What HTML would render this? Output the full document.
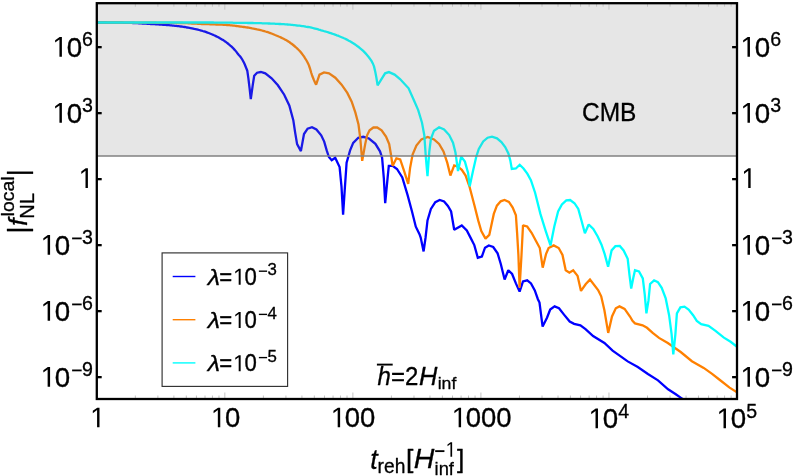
<!DOCTYPE html>
<html><head><meta charset="utf-8"><title>fNL</title>
<style>
html,body{margin:0;padding:0;background:#fff;}
body{width:793px;height:476px;overflow:hidden;}
svg{display:block;will-change:transform;}
text{font-family:"Liberation Sans",sans-serif;fill:#000;}
.t text,.t path{stroke:#000;stroke-width:0.3px;stroke-linejoin:round;}
</style></head><body>
<svg width="793" height="476" viewBox="0 0 793 476">
<rect x="0" y="0" width="793" height="476" fill="#fff"/>
<defs><clipPath id="c"><rect x="96.8" y="3.2" width="640.2" height="395.8"/></clipPath></defs>
<g clip-path="url(#c)" fill="none" stroke-width="2.3" stroke-linejoin="miter" stroke-miterlimit="1.6">
<polyline stroke="#0000ff" points="96.8,22.5 98.0,22.5 99.2,22.5 100.4,22.5 101.6,22.5 102.8,22.5 104.0,22.5 105.2,22.5 106.4,22.5 107.6,22.6 108.8,22.6 110.0,22.6 111.2,22.6 112.4,22.6 113.6,22.6 114.8,22.6 116.0,22.7 117.3,22.7 118.5,22.7 119.7,22.7 120.9,22.7 122.1,22.7 123.3,22.8 124.5,22.8 125.7,22.8 126.9,22.8 128.1,22.9 129.3,22.9 130.0,22.9 130.5,22.9 131.7,22.9 132.9,23.0 134.1,23.0 135.3,23.1 136.5,23.1 137.7,23.2 138.9,23.3 140.1,23.3 141.3,23.4 142.5,23.5 143.7,23.6 144.9,23.6 146.1,23.7 147.3,23.8 148.5,23.9 149.7,23.9 150.6,24.0 150.9,24.0 152.1,24.1 153.3,24.2 154.6,24.2 155.8,24.3 157.0,24.4 158.2,24.4 159.4,24.5 160.6,24.6 161.8,24.7 163.0,24.8 164.2,24.8 165.0,24.9 165.4,24.9 166.6,25.0 167.8,25.1 169.0,25.2 170.2,25.3 171.4,25.4 172.6,25.6 173.8,25.7 175.0,25.8 176.2,25.9 177.4,26.1 178.6,26.2 179.8,26.4 180.9,26.5 181.0,26.5 182.2,26.7 183.4,26.9 184.6,27.0 185.8,27.2 187.0,27.5 188.2,27.7 189.4,27.9 190.6,28.1 191.8,28.4 192.0,28.4 193.1,28.6 194.3,28.9 195.5,29.1 196.7,29.4 197.9,29.7 199.1,30.0 200.0,30.2 200.3,30.3 201.5,30.6 202.7,31.0 203.9,31.3 205.1,31.7 206.3,32.1 207.5,32.6 208.7,33.0 209.9,33.5 211.1,34.0 212.3,34.5 212.6,34.6 213.5,35.0 214.7,35.5 215.9,36.1 217.1,36.7 218.3,37.3 219.5,38.0 220.7,38.7 221.9,39.4 223.1,40.1 224.3,40.9 225.2,41.5 225.5,41.7 226.7,42.6 227.9,43.5 229.1,44.5 230.3,45.6 231.6,46.7 232.8,47.8 234.0,49.1 234.0,49.1 235.2,50.4 236.4,51.9 237.6,53.5 238.8,55.0 238.8,55.0 240.0,56.2 240.4,56.7 241.2,57.8 242.4,59.7 243.6,62.0 243.9,62.6 244.8,64.5 246.0,67.5 246.7,69.3 247.2,70.5 247.3,70.8 248.4,78.4 248.9,82.7 249.6,88.4 250.8,99.1 252.7,85.3 254.2,75.8 257.1,72.7 260.9,72.0 265.3,73.3 271.6,78.3 277.9,85.3 284.2,94.7 289.3,105.4 293.3,120.2 295.2,132.8 297.1,144.1 300.9,151.1 304.0,134.0 307.6,128.6 312.0,127.2 316.4,129.4 321.2,135.3 324.2,141.6 326.7,150.4 328.9,157.0 331.7,160.2 335.2,157.7 339.6,167.1 341.5,186.7 343.1,214.7 344.7,190.4 346.6,162.7 350.1,150.4 353.2,142.9 358.3,137.8 363.3,136.8 369.0,138.5 375.4,143.8 380.0,151.3 382.1,157.7 383.8,177.8 385.2,203.1 387.6,177.8 388.8,165.9 392.6,165.9 397.0,169.0 402.3,177.5 407.6,195.1 412.0,211.5 415.8,226.7 419.5,234.2 420.7,237.6 423.6,251.4 425.5,238.0 427.5,220.4 430.9,209.0 435.3,202.1 439.7,199.9 444.1,201.4 447.9,205.9 451.1,211.5 454.2,229.8 461.8,225.4 466.8,230.4 470.5,237.6 474.3,245.1 477.8,257.7 481.9,256.5 485.0,247.7 488.8,245.4 493.2,247.0 497.6,253.3 500.8,264.0 504.6,279.5 508.3,270.2 512.1,274.0 515.9,283.4 519.6,291.6 523.0,281.5 527.2,280.3 531.0,283.4 534.8,290.4 537.9,299.2 539.5,302.6 542.6,326.6 547.0,317.7 550.2,309.5 554.6,306.4 559.0,308.3 564.0,314.6 569.7,321.5 574.1,323.8 580.4,325.3 585.5,329.1 593.1,336.0 604.4,343.0 612.6,350.7 627.7,361.4 637.8,367.1 647.9,374.0 658.0,380.4 668.1,389.3 675.4,394.0 681.0,397.9 690.0,404.0"/>
<polyline stroke="#ff8000" points="96.8,22.5 98.0,22.5 99.2,22.5 100.4,22.5 101.6,22.5 102.8,22.5 104.0,22.5 105.2,22.5 106.4,22.5 107.6,22.5 108.8,22.5 110.1,22.5 111.3,22.5 112.5,22.5 113.7,22.5 114.9,22.5 116.1,22.5 117.3,22.5 118.5,22.5 119.7,22.5 120.9,22.5 122.1,22.5 123.3,22.5 124.5,22.6 125.7,22.6 126.9,22.6 128.1,22.6 129.3,22.6 130.5,22.6 131.7,22.6 132.9,22.6 134.2,22.6 135.4,22.6 136.6,22.6 137.8,22.6 139.0,22.6 140.2,22.6 141.4,22.6 142.6,22.6 143.8,22.7 145.0,22.7 146.2,22.7 147.4,22.7 148.6,22.7 149.8,22.7 151.0,22.7 152.2,22.7 153.4,22.7 154.6,22.7 155.8,22.7 157.0,22.8 158.3,22.8 159.5,22.8 160.7,22.8 161.9,22.8 163.1,22.8 164.3,22.8 165.5,22.8 166.7,22.8 167.9,22.9 169.1,22.9 170.3,22.9 171.5,22.9 172.7,22.9 173.9,22.9 175.1,22.9 176.3,23.0 177.5,23.0 178.7,23.0 179.9,23.0 180.0,23.0 181.1,23.0 182.4,23.0 183.6,23.1 184.8,23.1 186.0,23.2 187.2,23.2 188.4,23.3 189.6,23.4 190.8,23.4 192.0,23.5 193.2,23.6 194.4,23.6 195.6,23.7 196.8,23.7 198.0,23.8 199.2,23.9 200.0,23.9 200.4,23.9 201.6,24.0 202.8,24.0 204.0,24.1 205.2,24.1 206.5,24.1 207.7,24.2 208.9,24.2 210.1,24.3 211.3,24.3 212.5,24.3 213.7,24.4 214.9,24.4 216.1,24.5 217.3,24.5 218.5,24.6 219.7,24.6 220.9,24.7 222.1,24.7 223.3,24.8 224.5,24.9 225.2,24.9 225.7,24.9 226.9,25.0 228.1,25.1 229.3,25.2 230.5,25.3 231.8,25.4 233.0,25.6 234.2,25.7 235.4,25.8 236.6,26.0 237.8,26.1 239.0,26.3 240.2,26.5 241.4,26.6 242.6,26.8 243.8,27.0 244.1,27.0 245.0,27.1 246.2,27.3 247.4,27.5 248.6,27.7 249.8,27.9 251.0,28.1 252.2,28.4 253.4,28.6 254.6,28.8 255.9,29.1 257.1,29.4 258.3,29.6 259.5,29.9 260.7,30.2 261.9,30.5 263.1,30.8 263.1,30.8 264.3,31.1 265.5,31.5 266.7,31.8 267.9,32.2 269.1,32.7 270.3,33.1 271.5,33.5 272.7,34.0 273.9,34.5 275.1,35.0 275.7,35.2 276.3,35.5 277.5,36.0 278.7,36.5 280.0,37.0 281.2,37.6 282.4,38.2 283.6,38.8 284.8,39.4 286.0,40.1 287.2,40.8 288.3,41.5 288.4,41.6 289.6,42.3 290.8,43.2 292.0,44.0 293.2,45.0 294.4,46.0 295.6,47.0 296.8,48.1 298.0,49.3 299.2,50.5 300.0,51.3 300.4,51.8 301.6,53.3 302.8,54.9 304.1,56.7 305.0,58.2 305.3,58.6 306.5,60.5 307.7,62.7 308.8,65.1 308.9,65.3 310.1,68.9 311.3,73.0 312.0,75.2 312.5,76.5 313.7,79.5 314.9,82.3 316.1,84.7 319.5,74.6 324.0,72.4 329.0,73.3 335.3,77.7 341.6,84.7 347.3,92.9 351.7,101.7 355.4,112.6 358.5,124.5 360.3,138.5 362.2,160.8 365.2,144.1 367.1,135.3 369.6,130.3 373.4,127.5 377.2,127.5 381.6,130.3 386.0,136.6 389.2,144.1 391.1,155.5 392.6,165.9 396.4,158.3 400.2,159.5 403.9,170.3 408.2,183.8 410.1,167.9 412.6,154.5 416.4,145.6 421.4,139.4 427.7,137.0 434.0,139.5 439.1,144.0 443.5,151.5 447.3,162.9 450.4,175.5 454.2,165.4 458.0,166.7 461.8,169.8 465.6,175.5 469.4,186.3 474.4,205.2 478.2,220.4 481.3,231.1 485.5,238.6 489.3,234.9 491.9,222.7 493.8,213.9 496.9,205.7 500.7,201.3 504.5,200.0 508.9,201.9 512.7,207.6 515.9,215.2 517.1,232.8 518.4,255.0 519.6,287.8 521.5,255.0 523.0,225.3 527.2,226.5 531.6,232.8 536.0,241.0 539.8,248.0 542.7,267.7 546.1,253.8 548.6,248.0 553.7,245.4 558.7,248.0 562.5,255.0 565.7,270.2 569.4,272.7 573.2,270.2 577.6,275.9 581.0,290.9 585.8,284.0 590.0,279.6 598.1,290.0 601.2,296.3 604.4,310.2 608.2,332.9 612.0,316.5 615.8,308.3 619.5,306.4 624.6,308.9 630.0,316.5 632.5,320.9 635.0,323.4 642.6,325.3 647.0,327.8 652.7,332.9 659.0,337.9 667.8,343.0 680.7,352.0 691.9,361.2 703.7,367.9 712.1,373.8 719.9,380.0 729.6,387.6 737.0,392.4"/>
<polyline stroke="#00ffff" points="96.8,22.5 98.0,22.5 99.2,22.5 100.4,22.5 101.6,22.5 102.8,22.5 104.0,22.5 105.2,22.5 106.4,22.5 107.6,22.5 108.8,22.5 110.0,22.5 111.2,22.5 112.4,22.5 113.6,22.5 114.8,22.5 116.0,22.5 117.2,22.5 118.4,22.5 119.6,22.5 120.8,22.5 122.0,22.5 123.2,22.5 124.4,22.5 125.6,22.5 126.8,22.5 128.0,22.5 129.2,22.5 130.4,22.5 131.6,22.5 132.8,22.5 134.0,22.5 135.2,22.5 136.4,22.5 137.6,22.5 138.8,22.5 140.0,22.5 141.2,22.5 142.4,22.5 143.6,22.5 144.8,22.5 146.0,22.5 147.2,22.5 148.4,22.5 149.6,22.5 150.8,22.5 152.0,22.5 153.2,22.5 154.4,22.5 155.6,22.5 156.8,22.5 158.0,22.5 159.2,22.5 160.4,22.5 161.6,22.5 162.8,22.5 164.0,22.5 165.2,22.5 166.4,22.5 167.6,22.5 168.8,22.5 170.0,22.5 171.2,22.5 172.4,22.5 173.6,22.5 174.8,22.5 176.0,22.5 177.2,22.5 178.4,22.5 179.6,22.5 180.8,22.5 182.0,22.5 183.2,22.5 184.4,22.5 185.6,22.5 186.8,22.5 188.0,22.5 189.2,22.5 190.4,22.5 191.6,22.5 192.8,22.5 194.0,22.5 195.2,22.5 196.4,22.5 197.6,22.5 198.8,22.5 200.0,22.5 201.2,22.5 202.4,22.5 203.6,22.5 204.8,22.5 206.0,22.5 207.2,22.5 208.4,22.5 209.6,22.5 210.8,22.5 212.0,22.5 213.2,22.5 214.4,22.6 215.6,22.6 216.8,22.6 218.0,22.6 219.2,22.6 220.4,22.6 221.6,22.6 222.8,22.6 224.0,22.6 225.2,22.6 226.4,22.7 227.6,22.7 228.8,22.7 230.0,22.7 231.2,22.7 232.4,22.7 233.6,22.8 234.8,22.8 236.0,22.8 237.2,22.8 238.4,22.8 239.6,22.8 240.8,22.9 242.0,22.9 243.2,22.9 244.4,22.9 245.6,22.9 246.8,22.9 248.0,23.0 249.2,23.0 250.4,23.0 250.4,23.0 251.6,23.0 252.8,23.0 254.0,23.1 255.2,23.1 256.4,23.1 257.6,23.1 258.8,23.2 260.0,23.2 261.2,23.2 262.4,23.3 263.6,23.3 264.8,23.4 266.0,23.4 267.2,23.4 268.4,23.5 269.6,23.5 270.8,23.6 272.0,23.6 273.2,23.7 274.4,23.7 275.6,23.8 276.8,23.8 278.0,23.9 279.2,24.0 280.0,24.0 280.4,24.0 281.6,24.1 282.8,24.2 284.0,24.2 285.2,24.3 286.4,24.4 287.6,24.5 288.8,24.6 290.0,24.7 291.2,24.8 292.4,24.9 293.6,25.1 294.8,25.2 296.0,25.3 297.2,25.5 298.4,25.6 299.6,25.7 300.8,25.9 302.0,26.1 303.2,26.2 304.4,26.4 305.2,26.5 305.6,26.6 306.8,26.8 308.0,27.0 309.2,27.2 310.4,27.4 311.6,27.7 312.8,28.0 314.0,28.3 315.2,28.6 316.4,28.9 317.6,29.2 318.8,29.6 320.0,29.9 321.2,30.3 322.4,30.6 323.6,31.0 324.8,31.3 325.4,31.5 326.0,31.7 327.2,32.0 328.4,32.4 329.6,32.8 330.8,33.2 332.0,33.6 333.2,34.0 334.4,34.4 335.6,34.8 336.8,35.3 338.0,35.7 339.2,36.2 340.4,36.7 341.6,37.2 342.8,37.7 343.0,37.8 344.0,38.3 345.2,38.8 346.4,39.4 347.6,40.0 348.8,40.7 350.0,41.3 351.2,42.0 352.4,42.8 353.6,43.5 354.8,44.3 356.0,45.1 357.2,46.0 358.2,46.7 358.4,46.8 359.6,47.8 360.8,48.8 362.0,49.8 363.2,50.9 364.4,52.1 365.6,53.4 366.8,54.7 368.0,56.2 368.1,56.3 369.2,57.7 370.4,59.3 371.6,61.1 372.8,63.4 373.8,65.8 374.0,66.4 375.2,71.5 375.7,74.0 376.4,77.8 377.6,85.3 380.7,80.3 385.1,73.3 388.9,72.1 394.6,74.6 400.0,79.0 408.6,88.3 413.8,100.0 418.2,110.1 422.0,122.7 424.3,135.2 425.9,157.8 427.5,176.1 429.3,151.5 430.9,138.9 434.0,130.7 439.1,127.3 444.1,129.5 449.2,135.1 453.0,142.7 455.5,152.8 458.0,171.1 461.2,156.6 464.9,161.6 468.1,173.0 469.7,186.3 473.1,170.4 476.3,156.6 478.8,149.0 483.2,141.4 487.6,137.7 492.0,136.6 497.0,138.3 501.4,142.1 505.2,147.1 508.4,153.4 510.3,160.4 511.8,168.9 515.9,168.5 519.7,164.8 523.5,168.5 527.3,173.6 530.9,180.1 535.1,192.7 540.4,213.9 545.5,230.3 550.5,245.4 554.3,226.5 558.1,211.4 561.9,204.5 566.3,200.3 570.1,200.0 574.5,203.2 578.3,208.9 581.4,220.2 584.9,233.3 588.7,224.5 593.3,228.9 597.7,236.5 601.5,244.7 604.7,254.1 608.1,266.7 611.6,250.4 615.4,246.2 619.8,245.9 623.6,250.4 627.7,258.8 629.5,275.2 631.2,288.5 633.3,277.7 635.0,270.2 639.0,271.4 642.8,278.4 644.7,294.1 646.4,313.3 648.5,300.4 650.1,284.0 654.1,280.3 657.9,282.2 661.7,287.8 665.7,298.4 669.1,315.2 671.6,334.1 673.3,354.5 675.4,334.1 676.9,313.3 680.4,307.4 684.5,306.6 688.6,309.5 693.1,315.2 696.8,320.9 701.2,324.2 708.5,325.9 715.5,330.9 723.9,337.6 730.6,341.8 737.0,346.8"/>
</g>
<rect x="96.8" y="3.2" width="640.2" height="152.8" fill="rgb(128,128,128)" fill-opacity="0.2"/>
<line x1="96.8" y1="156" x2="737.0" y2="156" stroke="#808080" stroke-width="1.6"/>
<g stroke="#c4c4c4" stroke-width="1"><line x1="135.34" y1="399.00" x2="135.34" y2="395.50"/><line x1="135.34" y1="3.20" x2="135.34" y2="6.70"/><line x1="157.89" y1="399.00" x2="157.89" y2="395.50"/><line x1="157.89" y1="3.20" x2="157.89" y2="6.70"/><line x1="173.89" y1="399.00" x2="173.89" y2="395.50"/><line x1="173.89" y1="3.20" x2="173.89" y2="6.70"/><line x1="186.30" y1="399.00" x2="186.30" y2="395.50"/><line x1="186.30" y1="3.20" x2="186.30" y2="6.70"/><line x1="196.43" y1="399.00" x2="196.43" y2="395.50"/><line x1="196.43" y1="3.20" x2="196.43" y2="6.70"/><line x1="205.01" y1="399.00" x2="205.01" y2="395.50"/><line x1="205.01" y1="3.20" x2="205.01" y2="6.70"/><line x1="212.43" y1="399.00" x2="212.43" y2="395.50"/><line x1="212.43" y1="3.20" x2="212.43" y2="6.70"/><line x1="218.98" y1="399.00" x2="218.98" y2="395.50"/><line x1="218.98" y1="3.20" x2="218.98" y2="6.70"/><line x1="224.84" y1="399.00" x2="224.84" y2="392.50"/><line x1="224.84" y1="3.20" x2="224.84" y2="9.70"/><line x1="263.38" y1="399.00" x2="263.38" y2="395.50"/><line x1="263.38" y1="3.20" x2="263.38" y2="6.70"/><line x1="285.93" y1="399.00" x2="285.93" y2="395.50"/><line x1="285.93" y1="3.20" x2="285.93" y2="6.70"/><line x1="301.93" y1="399.00" x2="301.93" y2="395.50"/><line x1="301.93" y1="3.20" x2="301.93" y2="6.70"/><line x1="314.34" y1="399.00" x2="314.34" y2="395.50"/><line x1="314.34" y1="3.20" x2="314.34" y2="6.70"/><line x1="324.47" y1="399.00" x2="324.47" y2="395.50"/><line x1="324.47" y1="3.20" x2="324.47" y2="6.70"/><line x1="333.05" y1="399.00" x2="333.05" y2="395.50"/><line x1="333.05" y1="3.20" x2="333.05" y2="6.70"/><line x1="340.47" y1="399.00" x2="340.47" y2="395.50"/><line x1="340.47" y1="3.20" x2="340.47" y2="6.70"/><line x1="347.02" y1="399.00" x2="347.02" y2="395.50"/><line x1="347.02" y1="3.20" x2="347.02" y2="6.70"/><line x1="352.88" y1="399.00" x2="352.88" y2="392.50"/><line x1="352.88" y1="3.20" x2="352.88" y2="9.70"/><line x1="391.42" y1="399.00" x2="391.42" y2="395.50"/><line x1="391.42" y1="3.20" x2="391.42" y2="6.70"/><line x1="413.97" y1="399.00" x2="413.97" y2="395.50"/><line x1="413.97" y1="3.20" x2="413.97" y2="6.70"/><line x1="429.97" y1="399.00" x2="429.97" y2="395.50"/><line x1="429.97" y1="3.20" x2="429.97" y2="6.70"/><line x1="442.38" y1="399.00" x2="442.38" y2="395.50"/><line x1="442.38" y1="3.20" x2="442.38" y2="6.70"/><line x1="452.51" y1="399.00" x2="452.51" y2="395.50"/><line x1="452.51" y1="3.20" x2="452.51" y2="6.70"/><line x1="461.09" y1="399.00" x2="461.09" y2="395.50"/><line x1="461.09" y1="3.20" x2="461.09" y2="6.70"/><line x1="468.51" y1="399.00" x2="468.51" y2="395.50"/><line x1="468.51" y1="3.20" x2="468.51" y2="6.70"/><line x1="475.06" y1="399.00" x2="475.06" y2="395.50"/><line x1="475.06" y1="3.20" x2="475.06" y2="6.70"/><line x1="480.92" y1="399.00" x2="480.92" y2="392.50"/><line x1="480.92" y1="3.20" x2="480.92" y2="9.70"/><line x1="519.46" y1="399.00" x2="519.46" y2="395.50"/><line x1="519.46" y1="3.20" x2="519.46" y2="6.70"/><line x1="542.01" y1="399.00" x2="542.01" y2="395.50"/><line x1="542.01" y1="3.20" x2="542.01" y2="6.70"/><line x1="558.01" y1="399.00" x2="558.01" y2="395.50"/><line x1="558.01" y1="3.20" x2="558.01" y2="6.70"/><line x1="570.42" y1="399.00" x2="570.42" y2="395.50"/><line x1="570.42" y1="3.20" x2="570.42" y2="6.70"/><line x1="580.55" y1="399.00" x2="580.55" y2="395.50"/><line x1="580.55" y1="3.20" x2="580.55" y2="6.70"/><line x1="589.13" y1="399.00" x2="589.13" y2="395.50"/><line x1="589.13" y1="3.20" x2="589.13" y2="6.70"/><line x1="596.55" y1="399.00" x2="596.55" y2="395.50"/><line x1="596.55" y1="3.20" x2="596.55" y2="6.70"/><line x1="603.10" y1="399.00" x2="603.10" y2="395.50"/><line x1="603.10" y1="3.20" x2="603.10" y2="6.70"/><line x1="608.96" y1="399.00" x2="608.96" y2="392.50"/><line x1="608.96" y1="3.20" x2="608.96" y2="9.70"/><line x1="647.50" y1="399.00" x2="647.50" y2="395.50"/><line x1="647.50" y1="3.20" x2="647.50" y2="6.70"/><line x1="670.05" y1="399.00" x2="670.05" y2="395.50"/><line x1="670.05" y1="3.20" x2="670.05" y2="6.70"/><line x1="686.05" y1="399.00" x2="686.05" y2="395.50"/><line x1="686.05" y1="3.20" x2="686.05" y2="6.70"/><line x1="698.46" y1="399.00" x2="698.46" y2="395.50"/><line x1="698.46" y1="3.20" x2="698.46" y2="6.70"/><line x1="708.59" y1="399.00" x2="708.59" y2="395.50"/><line x1="708.59" y1="3.20" x2="708.59" y2="6.70"/><line x1="717.17" y1="399.00" x2="717.17" y2="395.50"/><line x1="717.17" y1="3.20" x2="717.17" y2="6.70"/><line x1="724.59" y1="399.00" x2="724.59" y2="395.50"/><line x1="724.59" y1="3.20" x2="724.59" y2="6.70"/><line x1="731.14" y1="399.00" x2="731.14" y2="395.50"/><line x1="731.14" y1="3.20" x2="731.14" y2="6.70"/></g>
<g stroke="#000" stroke-width="2.3"><line x1="96.80" y1="47.15" x2="101.70" y2="47.15"/><line x1="737.00" y1="47.15" x2="732.10" y2="47.15"/><line x1="96.80" y1="113.15" x2="101.70" y2="113.15"/><line x1="737.00" y1="113.15" x2="732.10" y2="113.15"/><line x1="96.80" y1="179.15" x2="101.70" y2="179.15"/><line x1="737.00" y1="179.15" x2="732.10" y2="179.15"/><line x1="96.80" y1="245.15" x2="101.70" y2="245.15"/><line x1="737.00" y1="245.15" x2="732.10" y2="245.15"/><line x1="96.80" y1="311.15" x2="101.70" y2="311.15"/><line x1="737.00" y1="311.15" x2="732.10" y2="311.15"/><line x1="96.80" y1="377.15" x2="101.70" y2="377.15"/><line x1="737.00" y1="377.15" x2="732.10" y2="377.15"/></g>
<rect x="96.8" y="3.2" width="640.2" height="395.8" fill="none" stroke="#000" stroke-width="2.3"/>
<g class="t">
<g transform="translate(51.25,56.65) scale(1.0400,1.0700)"><path transform="translate(0.00,0) scale(0.01302,-0.01302)" d="M605 0V1237L287 1010V1180L620 1409H786V0Z"/><text x="14.83" y="0" font-size="26.67">0</text></g><g transform="translate(82.10,45.95) scale(1.0100,1.0700)"><text x="0.00" y="0" font-size="19.40">6</text></g><g transform="translate(739.30,56.65) scale(1.0400,1.0700)"><path transform="translate(0.00,0) scale(0.01302,-0.01302)" d="M605 0V1237L287 1010V1180L620 1409H786V0Z"/><text x="14.83" y="0" font-size="26.67">0</text></g><g transform="translate(770.15,45.95) scale(1.0100,1.0700)"><text x="0.00" y="0" font-size="19.40">6</text></g><g transform="translate(51.25,122.65) scale(1.0400,1.0700)"><path transform="translate(0.00,0) scale(0.01302,-0.01302)" d="M605 0V1237L287 1010V1180L620 1409H786V0Z"/><text x="14.83" y="0" font-size="26.67">0</text></g><g transform="translate(82.10,111.95) scale(1.0100,1.0700)"><text x="0.00" y="0" font-size="19.40">3</text></g><g transform="translate(739.30,122.65) scale(1.0400,1.0700)"><path transform="translate(0.00,0) scale(0.01302,-0.01302)" d="M605 0V1237L287 1010V1180L620 1409H786V0Z"/><text x="14.83" y="0" font-size="26.67">0</text></g><g transform="translate(770.15,111.95) scale(1.0100,1.0700)"><text x="0.00" y="0" font-size="19.40">3</text></g><g transform="translate(77.47,187.95) scale(1.0200,1.0700)"><path transform="translate(0.00,0) scale(0.01302,-0.01302)" d="M605 0V1237L287 1010V1180L620 1409H786V0Z"/></g><g transform="translate(740.20,187.95) scale(1.0200,1.0700)"><path transform="translate(0.00,0) scale(0.01302,-0.01302)" d="M605 0V1237L287 1010V1180L620 1409H786V0Z"/></g><g transform="translate(39.44,254.65) scale(1.0400,1.0700)"><path transform="translate(0.00,0) scale(0.01302,-0.01302)" d="M605 0V1237L287 1010V1180L620 1409H786V0Z"/><text x="14.83" y="0" font-size="26.67">0</text></g><g transform="translate(70.29,243.95) scale(1.0100,1.0700)"><path transform="translate(0.00,0) scale(0.00947,-0.00947)" d="M190 457H1190V636H190Z"/><text x="11.70" y="0" font-size="19.40">3</text></g><g transform="translate(739.30,254.65) scale(1.0400,1.0700)"><path transform="translate(0.00,0) scale(0.01302,-0.01302)" d="M605 0V1237L287 1010V1180L620 1409H786V0Z"/><text x="14.83" y="0" font-size="26.67">0</text></g><g transform="translate(770.15,243.95) scale(1.0100,1.0700)"><path transform="translate(0.00,0) scale(0.00947,-0.00947)" d="M190 457H1190V636H190Z"/><text x="11.70" y="0" font-size="19.40">3</text></g><g transform="translate(39.44,320.65) scale(1.0400,1.0700)"><path transform="translate(0.00,0) scale(0.01302,-0.01302)" d="M605 0V1237L287 1010V1180L620 1409H786V0Z"/><text x="14.83" y="0" font-size="26.67">0</text></g><g transform="translate(70.29,309.95) scale(1.0100,1.0700)"><path transform="translate(0.00,0) scale(0.00947,-0.00947)" d="M190 457H1190V636H190Z"/><text x="11.70" y="0" font-size="19.40">6</text></g><g transform="translate(739.30,320.65) scale(1.0400,1.0700)"><path transform="translate(0.00,0) scale(0.01302,-0.01302)" d="M605 0V1237L287 1010V1180L620 1409H786V0Z"/><text x="14.83" y="0" font-size="26.67">0</text></g><g transform="translate(770.15,309.95) scale(1.0100,1.0700)"><path transform="translate(0.00,0) scale(0.00947,-0.00947)" d="M190 457H1190V636H190Z"/><text x="11.70" y="0" font-size="19.40">6</text></g><g transform="translate(39.44,386.65) scale(1.0400,1.0700)"><path transform="translate(0.00,0) scale(0.01302,-0.01302)" d="M605 0V1237L287 1010V1180L620 1409H786V0Z"/><text x="14.83" y="0" font-size="26.67">0</text></g><g transform="translate(70.29,375.95) scale(1.0100,1.0700)"><path transform="translate(0.00,0) scale(0.00947,-0.00947)" d="M190 457H1190V636H190Z"/><text x="11.70" y="0" font-size="19.40">9</text></g><g transform="translate(739.30,386.65) scale(1.0400,1.0700)"><path transform="translate(0.00,0) scale(0.01302,-0.01302)" d="M605 0V1237L287 1010V1180L620 1409H786V0Z"/><text x="14.83" y="0" font-size="26.67">0</text></g><g transform="translate(770.15,375.95) scale(1.0100,1.0700)"><path transform="translate(0.00,0) scale(0.00947,-0.00947)" d="M190 457H1190V636H190Z"/><text x="11.70" y="0" font-size="19.40">9</text></g>
<g transform="translate(88.96,427.30) scale(1.0300,1.0700)"><path transform="translate(0.00,0) scale(0.01302,-0.01302)" d="M605 0V1237L287 1010V1180L620 1409H786V0Z"/></g><g transform="translate(209.72,427.30) scale(1.0300,1.0700)"><path transform="translate(0.00,0) scale(0.01302,-0.01302)" d="M605 0V1237L287 1010V1180L620 1409H786V0Z"/><text x="14.83" y="0" font-size="26.67">0</text></g><g transform="translate(329.58,427.30) scale(1.0300,1.0700)"><path transform="translate(0.00,0) scale(0.01302,-0.01302)" d="M605 0V1237L287 1010V1180L620 1409H786V0Z"/><text x="14.83" y="0" font-size="26.67">00</text></g><g transform="translate(450.54,427.30) scale(1.0300,1.0700)"><path transform="translate(0.00,0) scale(0.01302,-0.01302)" d="M605 0V1237L287 1010V1180L620 1409H786V0Z"/><text x="14.83" y="0" font-size="26.67">000</text></g><g transform="translate(587.33,428.20) scale(1.0400,1.0700)"><path transform="translate(0.00,0) scale(0.01302,-0.01302)" d="M605 0V1237L287 1010V1180L620 1409H786V0Z"/><text x="14.83" y="0" font-size="26.67">0</text></g><g transform="translate(618.18,417.50) scale(1.0100,1.0700)"><text x="0.00" y="0" font-size="19.40">4</text></g><g transform="translate(715.33,428.20) scale(1.0400,1.0700)"><path transform="translate(0.00,0) scale(0.01302,-0.01302)" d="M605 0V1237L287 1010V1180L620 1409H786V0Z"/><text x="14.83" y="0" font-size="26.67">0</text></g><g transform="translate(746.18,417.50) scale(1.0100,1.0700)"><text x="0.00" y="0" font-size="19.40">5</text></g>
<rect x="162.1" y="252.9" width="125.5" height="133.5" fill="#fff" stroke="#303030" stroke-width="1.15"/><line x1="172.7" y1="276.5" x2="195.4" y2="276.5" stroke="#0000ff" stroke-width="1.4"/><g transform="translate(207.70,284.80) scale(1.1700,1.0633)"><text x="0.00" y="0" font-size="21.33" font-style="italic">λ</text></g><g transform="translate(219.18,284.80) scale(1.0400,1.0850)"><text x="0.00" y="0" font-size="21.33">=</text><path transform="translate(12.46,0) scale(0.01042,-0.01042)" d="M605 0V1237L287 1010V1180L620 1409H786V0Z"/><text x="24.32" y="0" font-size="21.33">0</text></g><g transform="translate(257.31,275.40) scale(1.1000,1.0307)"><path transform="translate(0.00,0) scale(0.00747,-0.00747)" d="M190 457H1190V636H190Z"/><text x="9.23" y="0" font-size="15.30">3</text></g><line x1="172.7" y1="319.7" x2="195.4" y2="319.7" stroke="#ff8000" stroke-width="1.4"/><g transform="translate(207.70,328.00) scale(1.1700,1.0633)"><text x="0.00" y="0" font-size="21.33" font-style="italic">λ</text></g><g transform="translate(219.18,328.00) scale(1.0400,1.0850)"><text x="0.00" y="0" font-size="21.33">=</text><path transform="translate(12.46,0) scale(0.01042,-0.01042)" d="M605 0V1237L287 1010V1180L620 1409H786V0Z"/><text x="24.32" y="0" font-size="21.33">0</text></g><g transform="translate(257.31,318.60) scale(1.1000,1.0307)"><path transform="translate(0.00,0) scale(0.00747,-0.00747)" d="M190 457H1190V636H190Z"/><text x="9.23" y="0" font-size="15.30">4</text></g><line x1="172.7" y1="362.9" x2="195.4" y2="362.9" stroke="#00ffff" stroke-width="1.4"/><g transform="translate(207.70,371.20) scale(1.1700,1.0633)"><text x="0.00" y="0" font-size="21.33" font-style="italic">λ</text></g><g transform="translate(219.18,371.20) scale(1.0400,1.0850)"><text x="0.00" y="0" font-size="21.33">=</text><path transform="translate(12.46,0) scale(0.01042,-0.01042)" d="M605 0V1237L287 1010V1180L620 1409H786V0Z"/><text x="24.32" y="0" font-size="21.33">0</text></g><g transform="translate(257.31,361.80) scale(1.1000,1.0307)"><path transform="translate(0.00,0) scale(0.00747,-0.00747)" d="M190 457H1190V636H190Z"/><text x="9.23" y="0" font-size="15.30">5</text></g>
<g transform="translate(582.00,120.90) scale(1.0000,1.0350)"><text x="0.00" y="0" font-size="24.50">CMB</text></g>
<g transform="translate(377.60,384.60) scale(1.0000,1.0400)"><text x="0.00" y="0" font-size="24.00" font-style="italic">h</text></g><g transform="translate(390.95,384.60) scale(1.0000,1.0400)"><text x="0.00" y="0" font-size="24.00">=2</text></g><g transform="translate(419.11,384.60) scale(1.0600,1.0400)"><text x="0.00" y="0" font-size="24.00" font-style="italic">H</text></g><g transform="translate(437.68,389.10) scale(1.0400,1.0088)"><text x="0.00" y="0" font-size="17.00">inf</text></g>
<line x1="376.9" y1="364.6" x2="392.7" y2="364.6" stroke="#000" stroke-width="1.9"/>
<g transform="translate(370.20,468.90) scale(1.0000,1.0400)"><text x="0.00" y="0" font-size="26.67" font-style="italic">t</text></g><g transform="translate(377.61,473.30) scale(1.0000,1.0244)"><text x="0.00" y="0" font-size="19.20">reh</text></g><g transform="translate(405.90,468.20) scale(1.0000,0.9880)"><text x="0.00" y="0" font-size="26.67">[</text></g><g transform="translate(413.70,468.40) scale(1.0700,1.0400)"><text x="0.00" y="0" font-size="26.67" font-style="italic">H</text></g><g transform="translate(433.41,456.80) scale(0.9300,1.0400)"><path transform="translate(0.00,0) scale(0.00996,-0.00996)" d="M190 457H1190V636H190Z"/><path transform="translate(12.30,0) scale(0.00996,-0.00996)" d="M605 0V1237L287 1010V1180L620 1409H786V0Z"/></g><g transform="translate(434.60,474.85) scale(0.9550,0.9776)"><text x="0.00" y="0" font-size="19.20">inf</text></g><g transform="translate(457.10,468.20) scale(1.0000,0.9880)"><text x="0.00" y="0" font-size="26.67">]</text></g>
<g transform="translate(0,233.6) rotate(-90)"><g transform="translate(0.04,27.20) scale(1.0000,1.0300)"><text x="0.00" y="0" font-size="26.67">|</text></g><g transform="translate(7.70,27.00) scale(1.0000,1.0000)"><text x="0.00" y="0" font-size="26.67" font-style="italic">f</text></g><g transform="translate(17.20,13.90) scale(1.0000,0.9750)"><text x="0.00" y="0" font-size="19.40">local</text></g><g transform="translate(14.80,33.60) scale(1.0350,1.0550)"><text x="0.00" y="0" font-size="19.40">NL</text></g><g transform="translate(57.40,27.20) scale(1.0000,1.0300)"><text x="0.00" y="0" font-size="26.67">|</text></g></g>
</g>
</svg>
</body></html>
